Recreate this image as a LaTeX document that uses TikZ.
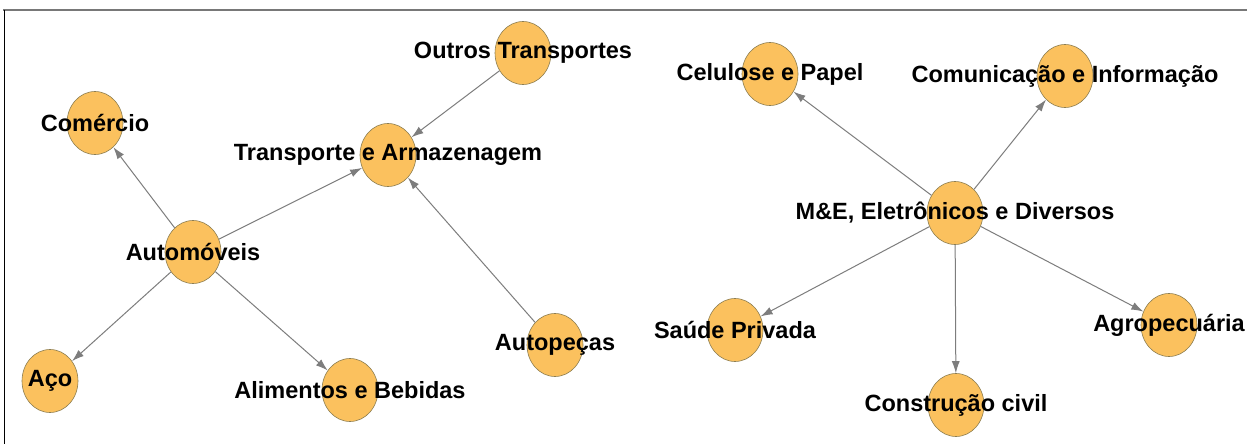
\documentclass[tikz,border=0pt]{standalone}
\usepackage{fontspec}
\setmainfont{Liberation Sans}
\usetikzlibrary{arrows.meta,shapes.geometric}
\definecolor{nodeorange}{RGB}{251,193,94}
\definecolor{nodeedge}{RGB}{140,125,80}
\definecolor{edgegray}{RGB}{125,125,125}
\definecolor{rulegray}{RGB}{120,120,120}
\begin{document}
\begin{tikzpicture}[x=1pt,y=-1pt,
  nd/.style={ellipse, minimum width=56pt, minimum height=63pt, inner sep=0pt,
    fill=nodeorange, draw=nodeedge, line width=0.6pt},
  lb/.style={font=\bfseries\fontsize{23.5}{25}\selectfont, inner sep=0pt, text=black},
  edge/.style={draw=edgegray, line width=1pt, -{Latex[length=12pt,width=8pt]}}]
\useasboundingbox (0,0) rectangle (1247,444);
\fill[white] (0,0) rectangle (1247,444);
% frame
\draw[rulegray, line width=2.5pt] (3,10) -- (1247,10);
\draw[black, line width=1pt] (4,10) -- (4,444);
% nodes
\node[nd] (out) at (523,53) {};
\node[nd] (com) at (95,123) {};
\node[nd] (tra) at (388,155) {};
\node[nd] (aut) at (193,252) {};
\node[nd] (aco) at (50,381) {};
\node[nd] (ali) at (350,390) {};
\node[nd] (ape) at (555,345) {};
\node[nd] (cel) at (770,74) {};
\node[nd] (cmi) at (1065,76) {};
\node[nd] (mee) at (955,213) {};
\node[nd] (sau) at (735,330) {};
\node[nd] (con) at (956,405) {};
\node[nd] (agr) at (1169,325) {};
% edges
\draw[edge] (aut) -- (com);
\draw[edge] (aut) -- (tra);
\draw[edge] (aut) -- (aco);
\draw[edge] (aut) -- (ali);
\draw[edge] (out) -- (tra);
\draw[edge] (ape) -- (tra);
\draw[edge] (mee) -- (cel);
\draw[edge] (mee) -- (cmi);
\draw[edge] (mee) -- (sau);
\draw[edge] (mee) -- (con);
\draw[edge] (mee) -- (agr);
% labels
\node[lb] (outL) at (out) {Outros Transportes};
\node[lb] (comL) at (com) {Comércio};
\node[lb] (traL) at (tra) {Transporte e Armazenagem};
\node[lb] (autL) at (aut) {Automóveis};
\node[lb] (acoL) at (aco) {Aço};
\node[lb] (aliL) at (ali) {Alimentos e Bebidas};
\node[lb] (apeL) at (ape) {Autopeças};
\node[lb] (celL) at (cel) {Celulose e Papel};
\node[lb] (cmiL) at (cmi) {Comunicação e Informação};
\node[lb] (meeL) at (mee) {M\&E, Eletrônicos e Diversos};
\node[lb] (sauL) at (sau) {Saúde Privada};
\node[lb] (conL) at (con) {Construção civil};
\node[lb] (agrL) at (agr) {Agropecuária};
\end{tikzpicture}
\end{document}
